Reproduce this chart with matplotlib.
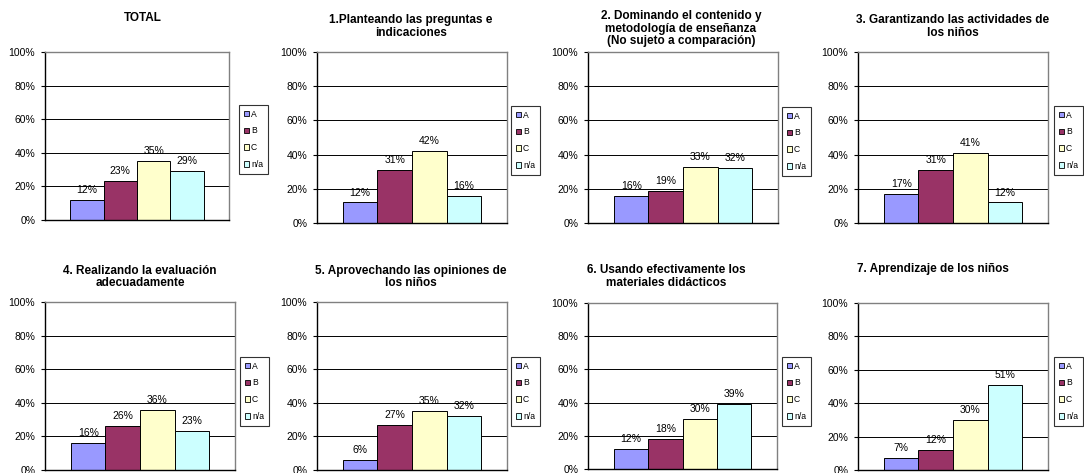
import numpy as np
import matplotlib
matplotlib.use("Agg")
import matplotlib.pyplot as plt
from matplotlib.patches import Patch
from matplotlib.ticker import FuncFormatter

plt.rcParams['font.family'] = ['Liberation Sans', 'DejaVu Sans']

W, H = 1084, 473

categories = ['A', 'B', 'C', 'n/a']
colors = ['#9999FF', '#993366', '#FFFFCC', '#CCFFFF']

titles = [
    ['TOTAL'],
    ['1.Planteando las preguntas e', 'indicaciones'],
    ['2. Dominando el contenido y', 'metodología de enseñanza', '(No sujeto a comparación)'],
    ['3. Garantizando las actividades de', 'los niños'],
    ['4. Realizando la evaluación', 'adecuadamente'],
    ['5. Aprovechando las opiniones de', 'los niños'],
    ['6. Usando efectivamente los', 'materiales didácticos'],
    ['7. Aprendizaje de los niños'],
]

total_vals = [12, 23, 35, 29]
q1_vals = [12, 31, 42, 16]
q2_vals = [16, 19, 33, 32]
q3_vals = [17, 31, 41, 12]
q4_vals = [16, 26, 36, 23]
q5_vals = [6, 27, 35, 32]
q6_vals = [12, 18, 30, 39]
q7_vals = [7, 12, 30, 51]
series = [total_vals, q1_vals, q2_vals, q3_vals, q4_vals, q5_vals, q6_vals, q7_vals]

yticks = [0, 20, 40, 60, 80, 100]

# panel layout in pixels: plot (left, top, right, bottom), legend (left, top), title (x, first baseline)
plot_px = [
    (45, 52, 229, 220), (317, 52, 507, 223), (588, 52, 778, 223), (858, 52, 1048, 223),
    (45, 302, 235, 470), (317, 302, 507, 470), (588, 303, 777, 469), (858, 303, 1048, 470),
]
legend_px = [
    (239, 105), (511, 106), (782, 107), (1054, 106),
    (240, 357), (511, 357), (782, 357), (1054, 357),
]
title_px = [
    (143, 21), (411, 23.3), (681, 19.3), (953, 23.3),
    (140, 274), (411, 274), (666, 273.3), (933, 272.3),
]

fig = plt.figure(figsize=(W / 100, H / 100), dpi=100, facecolor='white')

xpos = np.arange(len(categories)) - 1.5
handles = [Patch(facecolor=c, edgecolor='black', linewidth=0.6) for c in colors]

for i, vals in enumerate(series):
    l, t, r, b = plot_px[i]
    ax = fig.add_axes([l / W, 1 - b / H, (r - l) / W, (b - t) / H])
    ax.set_xlim(-2.75, 2.75)
    ax.set_ylim(0, 100)
    ax.set_yticks(yticks)
    ax.yaxis.set_major_formatter(FuncFormatter(lambda v, _: f'{v:.0f}%'))
    ax.set_xticks([])
    ax.grid(axis='y', color='black', linewidth=0.7, zorder=0)
    ax.set_axisbelow(True)
    ax.tick_params(axis='y', direction='out', length=3, width=0.8, pad=4,
                   labelsize=7.5, colors='black')
    for side in ('top', 'right'):
        ax.spines[side].set_color('#808080')
        ax.spines[side].set_linewidth(1.0)
    ax.spines['left'].set_color('black')
    ax.spines['left'].set_linewidth(1.0)
    ax.spines['bottom'].set_color('black')
    ax.spines['bottom'].set_linewidth(1.0)

    bars = ax.bar(xpos, vals, width=1.0, color=colors, edgecolor='black',
                  linewidth=0.7, zorder=2)
    for x, v in zip(xpos, vals):
        ax.annotate(f'{v}%', (x, v), xytext=(0, 5), textcoords='offset points',
                    ha='center', va='baseline', fontsize=7.5, zorder=3)

    lx, ly = legend_px[i]
    leg = ax.legend(handles, categories, loc='upper left',
                    bbox_to_anchor=(lx / W, 1 - ly / H), bbox_transform=fig.transFigure,
                    fontsize=6.2, frameon=True, fancybox=False, handlelength=0.6,
                    handleheight=0.6, handletextpad=0.25, labelspacing=0.9,
                    borderpad=0.55, borderaxespad=0.0)
    leg.get_frame().set_edgecolor('black')
    leg.get_frame().set_linewidth(0.8)

    tx, ty = title_px[i]
    for k, line in enumerate(titles[i]):
        fig.text(tx / W, 1 - (ty + 12.5 * k) / H, line, ha='center', va='baseline',
                 fontsize=8.5, fontweight='bold')

fig.savefig('out.png', dpi=100, facecolor='white')
